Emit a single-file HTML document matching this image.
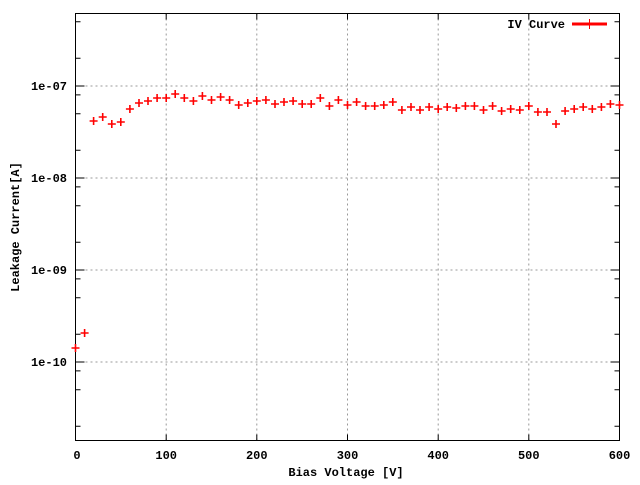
<!DOCTYPE html>
<html><head><meta charset="utf-8"><style>body{margin:0;background:#fff}text{font-family:"Liberation Mono",monospace;font-weight:bold;font-size:12px}</style></head><body>
<svg width="640" height="480" xmlns="http://www.w3.org/2000/svg">
<rect width="640" height="480" fill="#fff"/>
<g stroke="#999" stroke-dasharray="2,3">
<line x1="166.2" y1="13.5" x2="166.2" y2="440.5"/>
<line x1="256.8" y1="13.5" x2="256.8" y2="440.5"/>
<line x1="347.5" y1="13.5" x2="347.5" y2="440.5"/>
<line x1="438.2" y1="13.5" x2="438.2" y2="440.5"/>
<line x1="528.8" y1="13.5" x2="528.8" y2="440.5"/>
<line x1="75.5" y1="86" x2="619.5" y2="86"/>
<line x1="75.5" y1="178" x2="619.5" y2="178"/>
<line x1="75.5" y1="270" x2="619.5" y2="270"/>
<line x1="75.5" y1="362" x2="619.5" y2="362"/>
</g>
<path stroke="#000" fill="none" d="
M75.5 86h9M75.5 178h9M75.5 270h9M75.5 362h9
M619.5 86h-9M619.5 178h-9M619.5 270h-9M619.5 362h-9
M75.5 58.3h5M75.5 21.7h5M75.5 94.9h5M75.5 150.3h5M75.5 113.7h5M75.5 186.9h5M75.5 242.3h5M75.5 205.7h5M75.5 278.9h5M75.5 334.3h5M75.5 297.7h5M75.5 370.9h5M75.5 426.3h5M75.5 389.7h5
M619.5 58.3h-5M619.5 21.7h-5M619.5 94.9h-5M619.5 150.3h-5M619.5 113.7h-5M619.5 186.9h-5M619.5 242.3h-5M619.5 205.7h-5M619.5 278.9h-5M619.5 334.3h-5M619.5 297.7h-5M619.5 370.9h-5M619.5 426.3h-5M619.5 389.7h-5
M166.2 440.5v-6M256.8 440.5v-6M347.5 440.5v-6M438.2 440.5v-6M528.8 440.5v-6
M166.2 13.5v6M256.8 13.5v6M347.5 13.5v6M438.2 13.5v6M528.8 13.5v6"/>
<rect x="75.5" y="13.5" width="544" height="427" fill="none" stroke="#000"/>
<g text-anchor="middle">
<text x="77" y="459">0</text><text x="166.2" y="459">100</text><text x="256.8" y="459">200</text><text x="347.5" y="459">300</text><text x="438.2" y="459">400</text><text x="528.8" y="459">500</text><text x="619.5" y="459">600</text>
<text x="346" y="476">Bias Voltage [V]</text>
<text transform="translate(19,227) rotate(-90)">Leakage Current[A]</text>
</g>
<g text-anchor="end">
<text x="67" y="90">1e-07</text><text x="67" y="182">1e-08</text><text x="67" y="274">1e-09</text><text x="67" y="366">1e-10</text>
<text x="565" y="28">IV Curve</text>
</g>
<line x1="572" y1="24" x2="607" y2="24" stroke="#f00" stroke-width="3"/>
<line x1="589.5" y1="19" x2="589.5" y2="29" stroke="#f00"/>
<path stroke="#f00" stroke-width="1.6" fill="none" d="
M71.5 348h8M75.5 344v8
M80.6 333h8M84.6 329v8
M89.6 121h8M93.6 117v8
M98.7 117h8M102.7 113v8
M107.8 124h8M111.8 120v8
M116.8 122h8M120.8 118v8
M125.9 109h8M129.9 105v8
M135 103h8M139 99v8
M144 101h8M148 97v8
M153.1 98h8M157.1 94v8
M162.2 98h8M166.2 94v8
M171.2 94h8M175.2 90v8
M180.3 98h8M184.3 94v8
M189.4 101h8M193.4 97v8
M198.4 96h8M202.4 92v8
M207.5 100h8M211.5 96v8
M216.6 97h8M220.6 93v8
M225.6 100h8M229.6 96v8
M234.7 105h8M238.7 101v8
M243.8 103h8M247.8 99v8
M252.8 101h8M256.8 97v8
M261.9 100h8M265.9 96v8
M271 104h8M275 100v8
M280 102h8M284 98v8
M289.1 101h8M293.1 97v8
M298.2 104h8M302.2 100v8
M307.2 104h8M311.2 100v8
M316.3 98h8M320.3 94v8
M325.4 106h8M329.4 102v8
M334.4 100h8M338.4 96v8
M343.5 105h8M347.5 101v8
M352.6 102h8M356.6 98v8
M361.6 106h8M365.6 102v8
M370.7 106h8M374.7 102v8
M379.8 105h8M383.8 101v8
M388.8 102h8M392.8 98v8
M397.9 110h8M401.9 106v8
M407 107h8M411 103v8
M416 110h8M420 106v8
M425.1 107h8M429.1 103v8
M434.2 109h8M438.2 105v8
M443.2 107h8M447.2 103v8
M452.3 108h8M456.3 104v8
M461.4 106h8M465.4 102v8
M470.4 106h8M474.4 102v8
M479.5 110h8M483.5 106v8
M488.6 106h8M492.6 102v8
M497.6 111h8M501.6 107v8
M506.7 109h8M510.7 105v8
M515.8 110h8M519.8 106v8
M524.8 106h8M528.8 102v8
M533.9 112h8M537.9 108v8
M543 112h8M547 108v8
M552 124h8M556 120v8
M561.1 111h8M565.1 107v8
M570.2 109h8M574.2 105v8
M579.2 107h8M583.2 103v8
M588.3 109h8M592.3 105v8
M597.4 107h8M601.4 103v8
M606.4 104h8M610.4 100v8
M615.5 105h8M619.5 101v8"/>
</svg>
</body></html>
